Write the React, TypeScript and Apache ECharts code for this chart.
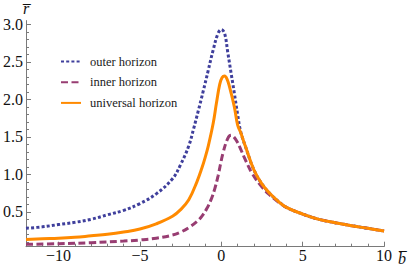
import React, { useEffect, useRef } from "react";
import * as echarts from "echarts";

const seriesNames = ["outer horizon", "inner horizon", "universal horizon"];

const outerB = [-12, -11, -10, -9, -8, -7, -6, -5, -4, -3, -2.5, -2, -1.7, -1.4, -1.1, -0.8, -0.5, -0.2, 0, 0.2, 0.4, 0.6, 0.8, 1.0, 1.2, 1.5, 2, 2.5, 3, 3.5, 4, 5, 6, 7, 8, 9, 10];
const outerR = [0.28, 0.3, 0.33, 0.36, 0.4, 0.46, 0.52, 0.61, 0.74, 0.94, 1.13, 1.38, 1.61, 1.86, 2.12, 2.39, 2.66, 2.88, 2.93, 2.88, 2.62, 2.35, 2.08, 1.8, 1.56, 1.36, 1.06, 0.87, 0.74, 0.64, 0.56, 0.47, 0.4, 0.355, 0.315, 0.28, 0.245];

const innerB = [-12, -10, -8, -6, -5, -4, -3, -2.5, -2, -1.5, -1.2, -0.9, -0.6, -0.4, -0.2, 0.1, 0.4, 0.6, 0.9, 1.2, 1.4, 1.9, 2.5, 3, 3.5, 4, 5, 6, 7, 8, 9, 10];
const innerR = [0.067, 0.075, 0.088, 0.11, 0.125, 0.148, 0.19, 0.23, 0.29, 0.37, 0.44, 0.54, 0.68, 0.81, 0.98, 1.28, 1.48, 1.52, 1.46, 1.33, 1.23, 1.01, 0.83, 0.72, 0.63, 0.56, 0.47, 0.4, 0.355, 0.315, 0.28, 0.245];

const universalB = [-12, -11, -10, -9, -8, -7, -6, -5, -4, -3, -2.5, -2, -1.5, -1.2, -1, -0.8, -0.5, -0.3, -0.1, 0.05, 0.2, 0.35, 0.5, 0.8, 1.0, 1.2, 1.5, 2, 2.5, 3, 3.5, 4, 5, 6, 7, 8, 9, 10];
const universalR = [0.13, 0.14, 0.147, 0.16, 0.18, 0.2, 0.23, 0.27, 0.34, 0.44, 0.53, 0.66, 0.9, 1.08, 1.22, 1.38, 1.68, 1.95, 2.2, 2.29, 2.31, 2.27, 2.17, 1.9, 1.66, 1.55, 1.36, 1.06, 0.87, 0.74, 0.64, 0.56, 0.47, 0.4, 0.355, 0.315, 0.28, 0.245];

const xMajor = [-10, -5, 0, 5, 10];
const xMinor = [-12, -11, -9, -8, -7, -6, -4, -3, -2, -1, 1, 2, 3, 4, 6, 7, 8, 9];
const yMajor = [0.5, 1.0, 1.5, 2.0, 2.5, 3.0];
const yMinor = [0.1, 0.2, 0.3, 0.4, 0.6, 0.7, 0.8, 0.9, 1.1, 1.2, 1.3, 1.4, 1.6, 1.7, 1.8, 1.9, 2.1, 2.2, 2.3, 2.4, 2.6, 2.7, 2.8, 2.9];

const SERIF = "Liberation Serif";
const AXIS_GRAY = "#7a7a7a";

export default function App() {
  const ref = useRef<HTMLDivElement>(null);
  useEffect(() => {
    if (!ref.current) return;
    const chart = echarts.init(ref.current, undefined, { renderer: "svg" });
    const pairs = (b: number[], r: number[]) => b.map((v, i) => [v, r[i]]);
    const xMin = -12, xMax = 10, yMin = 0.035, yMax = 3.05;
    chart.setOption({
      animation: false,
      backgroundColor: "#fff",
      textStyle: { fontFamily: SERIF },
      grid: { left: 23, right: 24, top: 20.6, bottom: 20.3, containLabel: false },
      legend: {
        orient: "vertical",
        left: 55,
        top: 50,
        itemWidth: 20,
        itemHeight: 14,
        itemGap: 7.7,
        data: seriesNames,
        itemStyle: { opacity: 0 },
        textStyle: { fontFamily: SERIF, fontSize: 12.5, color: "#1a1a1a", padding: [0, 0, 0, 4] },
      },
      xAxis: [
        {
          type: "value",
          min: xMin,
          max: xMax,
          position: "bottom",
          name: "b\u0305",
          nameLocation: "end",
          nameGap: 10,
          nameTextStyle: { fontFamily: SERIF, fontSize: 16, fontStyle: "italic", color: "#111", verticalAlign: "top", padding: [4, 0, 0, 0] },
          axisLine: { show: true, onZero: false, lineStyle: { color: AXIS_GRAY, width: 1 } },
          axisTick: { show: true, inside: true, length: 5, customValues: xMajor, lineStyle: { color: AXIS_GRAY } },
          axisLabel: {
            show: true,
            customValues: xMajor,
            margin: 1,
            fontFamily: SERIF,
            fontSize: 16,
            color: "#111",
            formatter: (v: number) => (v < 0 ? "\u2212" + Math.abs(v) : String(v)),
          },
          splitLine: { show: false },
        },
        {
          type: "value",
          min: xMin,
          max: xMax,
          position: "bottom",
          axisLine: { show: false, onZero: false },
          axisTick: { show: true, inside: true, length: 3, customValues: xMinor, lineStyle: { color: AXIS_GRAY } },
          axisLabel: { show: false },
          splitLine: { show: false },
        },
      ],
      yAxis: [
        {
          type: "value",
          min: yMin,
          max: yMax,
          position: "left",
          name: "r\u0305",
          nameLocation: "end",
          nameGap: 4,
          nameTextStyle: { fontFamily: SERIF, fontSize: 16, fontStyle: "italic", color: "#111", align: "center", verticalAlign: "bottom" },
          axisLine: { show: true, onZero: false, lineStyle: { color: AXIS_GRAY, width: 1 } },
          axisTick: { show: true, inside: true, length: 5, customValues: yMajor, lineStyle: { color: AXIS_GRAY } },
          axisLabel: {
            show: true,
            customValues: yMajor,
            margin: 3,
            fontFamily: SERIF,
            fontSize: 16,
            color: "#111",
            formatter: (v: number) => v.toFixed(1),
          },
          splitLine: { show: false },
        },
        {
          type: "value",
          min: yMin,
          max: yMax,
          position: "left",
          axisLine: { show: false, onZero: false },
          axisTick: { show: true, inside: true, length: 3, customValues: yMinor, lineStyle: { color: AXIS_GRAY } },
          axisLabel: { show: false },
          splitLine: { show: false },
        },
      ],
      series: [
        {
          name: seriesNames[0],
          type: "line",
          data: pairs(outerB, outerR),
          showSymbol: false,
          symbol: "none",
          smooth: 0.4,
          lineStyle: { color: "#3f3f9c", width: 3, type: [3, 2.2], cap: "butt" },
          itemStyle: { color: "#3f3f9c" },
        },
        {
          name: seriesNames[1],
          type: "line",
          data: pairs(innerB, innerR),
          showSymbol: false,
          symbol: "none",
          smooth: 0.4,
          lineStyle: { color: "#983d72", width: 3, type: [7, 3.5], cap: "butt" },
          itemStyle: { color: "#983d72" },
        },
        {
          name: seriesNames[2],
          type: "line",
          data: pairs(universalB, universalR),
          showSymbol: false,
          symbol: "none",
          smooth: 0.4,
          lineStyle: { color: "#ff8a00", width: 3 },
          itemStyle: { color: "#ff8a00" },
        },
      ],
    });
    return () => chart.dispose();
  }, []);
  return <div ref={ref} style={{ width: 409, height: 267, position: "absolute", left: 0, top: 0 }} />;
}
